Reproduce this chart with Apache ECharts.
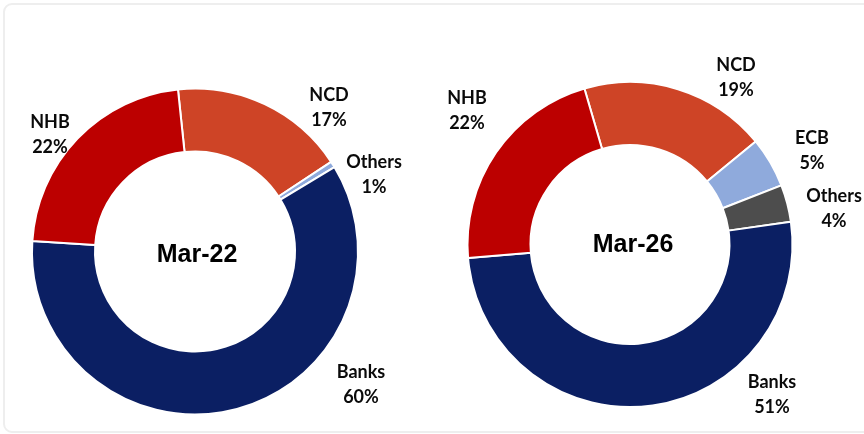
<!DOCTYPE html>
<html>
<head>
<meta charset="utf-8">
<script src="https://cdn.jsdelivr.net/npm/echarts@6/dist/echarts.min.js"></script>
<style>
  html, body { margin: 0; padding: 0; background: #fff; overflow: hidden; width: 864px; height: 434px; }
  .card {
    position: absolute; left: 3px; top: 3px; width: 900px; height: 426px;
    border: 2px solid #eeeeee; border-radius: 9px;
  }
  #chart { position: absolute; left: 0; top: 0; width: 864px; height: 434px; }
</style>
</head>
<body>
<div class="card"></div>
<div id="chart"></div>
<script>
// Mar-22 funding mix (%)
const names22 = ['NCD', 'Others', 'Banks', 'NHB'];
const values22 = [17.4, 0.6, 59.7, 22.3];
const colors22 = ['#CE4426', '#8FAADC', '#0B1F63', '#BC0000'];

// Mar-26 funding mix (%)
const names26 = ['NCD', 'ECB', 'Others', 'Banks', 'NHB'];
const values26 = [18.6, 5.0, 3.7, 50.9, 21.8];
const colors26 = ['#CE4426', '#8FAADC', '#4D4D4D', '#0B1F63', '#BC0000'];

const periods = ['Mar-22', 'Mar-26'];

// label anchor points (px), same order as the names
const labelPos22 = [[329, 108], [374, 175], [361, 385], [50, 135]];
const labelPos26 = [[736, 78], [812, 151], [834, 209], [772, 395], [467, 111]];

const chart = echarts.init(document.getElementById('chart'));

function donut(names, values, colors, center, radius, startAngle, labelPos) {
  return {
    type: 'pie',
    center: center,
    radius: radius,
    startAngle: startAngle,
    clockwise: true,
    silent: true,
    animation: false,
    itemStyle: { borderColor: '#fff', borderWidth: 2 },
    label: {
      show: true,
      position: 'outside',
      formatter: p => p.name + '\n' + Math.round(p.value) + '%',
      fontFamily: 'Lato',
      fontWeight: 'bold',
      fontSize: 18,
      lineHeight: 25,
      color: '#0a0a0a',
      align: 'center',
      overflow: 'none',
      edgeDistance: 0,
      bleedMargin: 0
    },
    labelLine: { show: false },
    labelLayout: p => ({
      x: labelPos[p.dataIndex][0],
      y: labelPos[p.dataIndex][1],
      align: 'center',
      verticalAlign: 'middle'
    }),
    data: names.map((n, i) => ({ name: n, value: values[i], itemStyle: { color: colors[i] } }))
  };
}

chart.setOption({
  animation: false,
  graphic: [
    { type: 'text', x: 197, y: 255, style: { text: periods[0], font: 'bold 25px "Liberation Sans", Arial', fill: '#000', align: 'center', verticalAlign: 'middle' } },
    { type: 'text', x: 633, y: 245, style: { text: periods[1], font: 'bold 25px "Liberation Sans", Arial', fill: '#000', align: 'center', verticalAlign: 'middle' } }
  ],
  series: [
    donut(names22, values22, colors22, [195, 251.5], [100, 163], 96, labelPos22),
    donut(names26, values26, colors26, [630, 244.5], [99.5, 162.5], 106.3, labelPos26)
  ]
});
</script>
</body>
</html>
